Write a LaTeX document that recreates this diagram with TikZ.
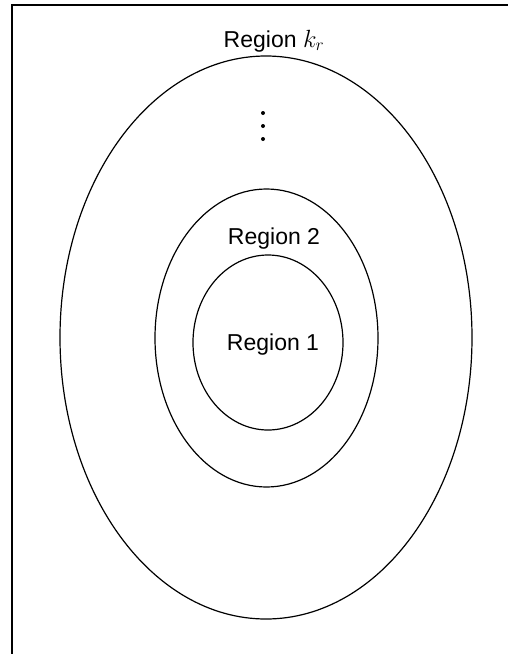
\documentclass[tikz,border=0pt]{standalone}
\usepackage{fontspec}
\setmainfont{Liberation Sans}
\begin{document}
\begin{tikzpicture}[x=1pt,y=-1pt,
    region/.style={font=\fontsize{23}{27}\selectfont, inner sep=0pt, anchor=base}]
                \useasboundingbox (0,0) rectangle (508,654);
                \draw[line width=1.8pt](12,654)--(12,5)--(508,5);
                \draw[line width=1.2pt](266,337.5) ellipse [x radius=206, y radius=281.5];
                \draw[line width=1.2pt](266.5,338) ellipse [x radius=111.5, y radius=149];
                \draw[line width=1.2pt](268,342.5) ellipse [x radius=75, y radius=87.5];
                \node[region] (rk) at (274,47) {Region $k_r$};
                \node[region] (r2) at (274,244) {Region 2};
                \node[region] (r1) at (273,350) {Region 1};
                \foreach \y in {113,126,139}
                    \fill (263,\y) circle (2);
            \end{tikzpicture}
\end{document}
